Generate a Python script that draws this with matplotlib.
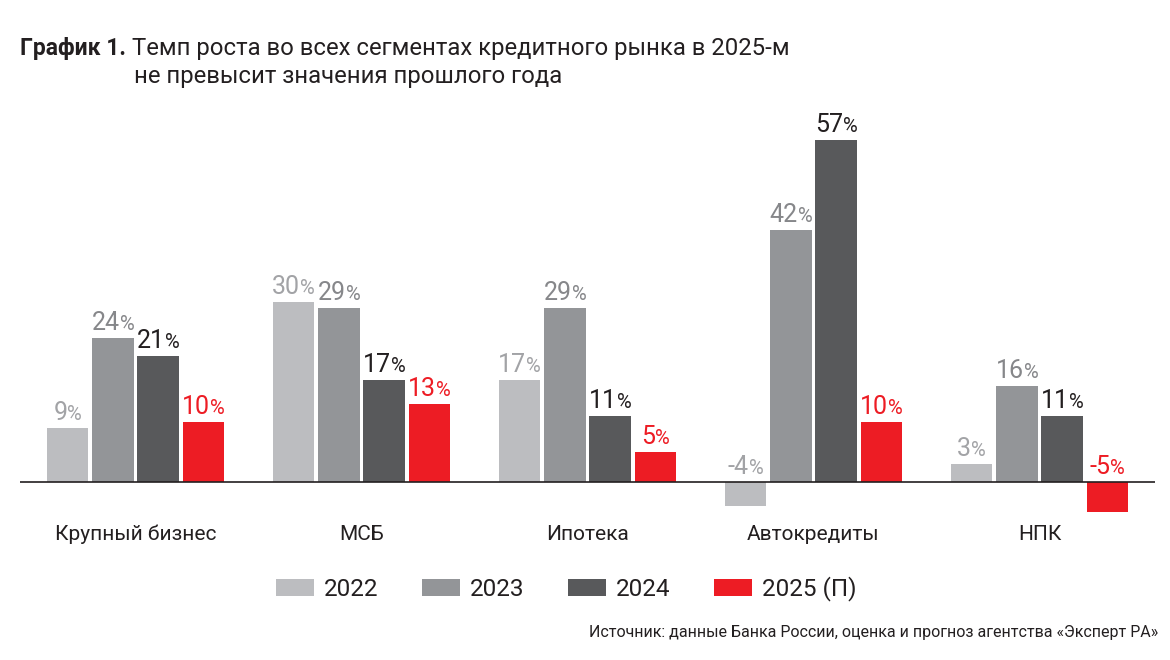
import numpy as np
import matplotlib
matplotlib.use("Agg")
import matplotlib.pyplot as plt
from matplotlib.patches import Patch
from matplotlib.offsetbox import TextArea, HPacker, AnnotationBbox

plt.rcParams['font.family'] = ['Roboto', 'DejaVu Sans']

# data
categories = ['Крупный бизнес', 'МСБ', 'Ипотека', 'Автокредиты', 'НПК']
series_names = ['2022', '2023', '2024', '2025 (П)']
v2022 = [9, 30, 17, -4, 3]
v2023 = [24, 29, 29, 42, 16]
v2024 = [21, 17, 11, 57, 11]
v2025 = [10, 13, 5, 10, -5]

bar_colors = ['#bcbdc0', '#939598', '#58595b', '#ed1c24']
label_colors = ['#a2a3a6', '#86878a', '#231f20', '#ed1c24']
text_dark = '#231f20'

fig = plt.figure(figsize=(11.7, 6.6), dpi=100)
ax = fig.add_axes([20 / 1170, 1 - 518 / 660, 1135 / 1170, (518 - 110) / 660])

x = np.arange(len(categories))
pitch = 0.2
width = 0.183
all_series = [v2022, v2023, v2024, v2025]

for k, vals in enumerate(all_series):
    xs = x + (k - 1.5) * pitch
    ax.bar(xs, vals, width=width, color=bar_colors[k], zorder=2)
    for xi, v in zip(xs, vals):
        # number and a slightly smaller percent sign, sitting on one baseline
        num = TextArea(str(v), textprops=dict(fontsize=18, color=label_colors[k]))
        pct = TextArea('%', textprops=dict(fontsize=14.5, color=label_colors[k]))
        box = HPacker(children=[num, pct], align='baseline', pad=0, sep=0)
        ab = AnnotationBbox(box, (xi, max(v, 0)), xybox=(0, 2), xycoords='data',
                            boxcoords='offset points', box_alignment=(0.5, 0),
                            frameon=False, pad=0)
        ax.add_artist(ab)

ax.axhline(0, color=text_dark, lw=1.2, zorder=3)
ax.set_xlim(-0.511, 4.511)
ax.set_ylim(-6, 62)
ax.set_yticks([])
ax.set_xticks(x)
ax.set_xticklabels(categories, fontsize=15, color=text_dark)
ax.tick_params(axis='x', length=0, pad=5)
for s in ax.spines.values():
    s.set_visible(False)

# title in two parts: bold prefix + regular text
fig.text(20 / 1170, 1 - 48 / 660, 'График 1.', fontsize=16.5, fontweight='bold',
         color=text_dark, va='center', ha='left')
fig.text(132 / 1170, 1 - 48 / 660, 'Темп роста во всех сегментах кредитного рынка в 2025-м',
         fontsize=17.2, color=text_dark, va='center', ha='left')
fig.text(134 / 1170, 1 - 77 / 660, 'не превысит значения прошлого года',
         fontsize=17.2, color=text_dark, va='center', ha='left')

handles = [Patch(facecolor=c, edgecolor='none') for c in bar_colors]
fig.legend(handles, series_names, loc='center', bbox_to_anchor=(0.484, 1 - 589 / 660),
           ncol=4, frameon=False, fontsize=17.5, handlelength=1.56, handleheight=0.66,
           handletextpad=0.4, columnspacing=1.8, labelcolor=text_dark)

fig.text(1158 / 1170, 1 - 633 / 660,
         'Источник: данные Банка России, оценка и прогноз агентства «Эксперт РА»',
         fontsize=11.5, color=text_dark, ha='right', va='center')

fig.savefig('out.png', dpi=100)
